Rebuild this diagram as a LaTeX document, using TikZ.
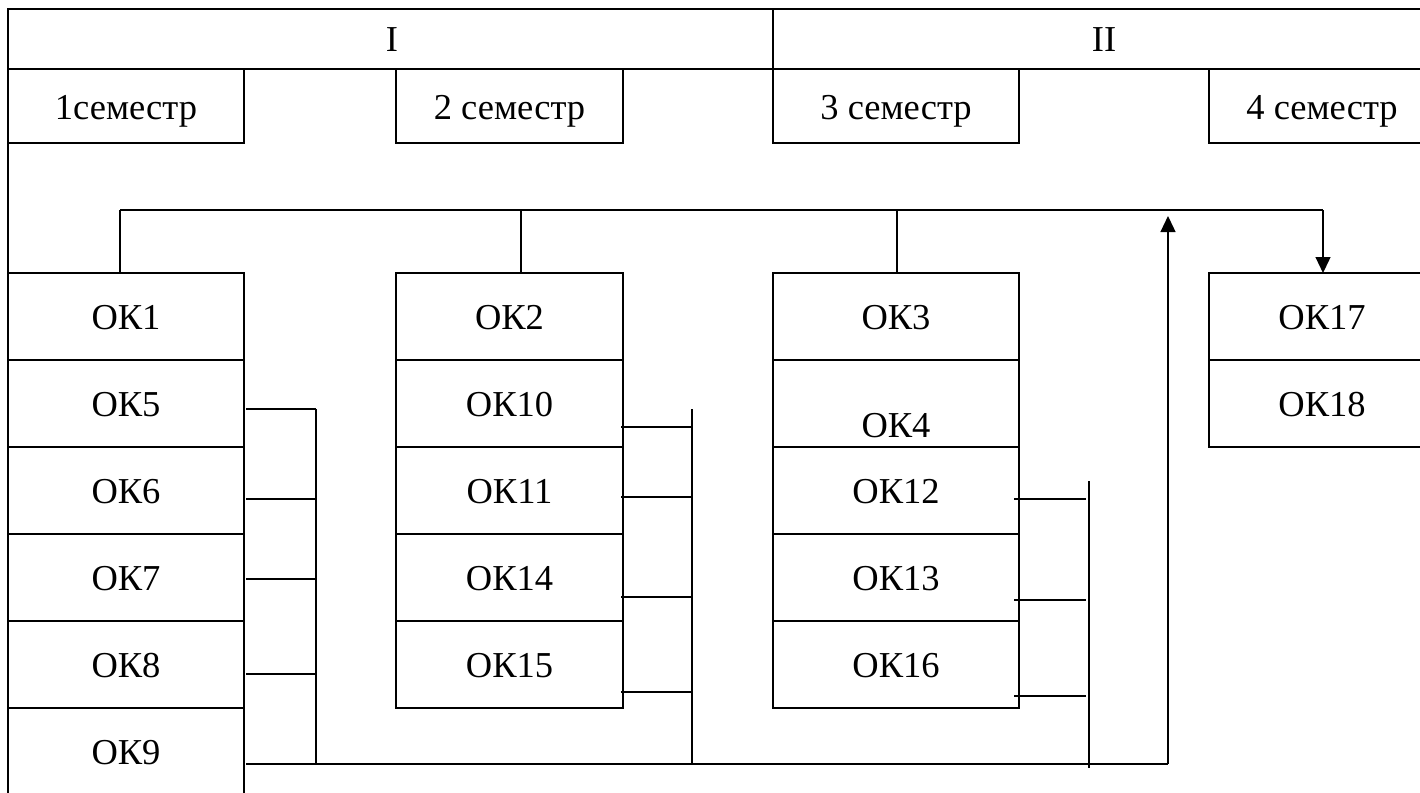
\documentclass[tikz,border=0pt]{standalone}
\usepackage{fontspec}
\setmainfont{Liberation Serif}
\usetikzlibrary{arrows.meta}
\begin{document}
\begin{tikzpicture}[x=1pt,y=-1pt,line width=1.3pt,
  txt/.style={inner sep=0pt,text height=26pt,text depth=0pt,font=\fontsize{36.5}{42}\selectfont},
  box/.style={draw,rectangle,inner sep=0pt,outer sep=0pt,minimum width=#1,minimum height=87pt,
              text height=26pt,text depth=0pt,font=\fontsize{36.5}{42}\selectfont},
  sem/.style={draw,rectangle,inner sep=0pt,outer sep=0pt,minimum width=#1,minimum height=74pt,
              text height=26pt,text depth=0pt,font=\fontsize{36.5}{42}\selectfont},
  conn/.style={line width=1.3pt},
  arr/.style={line width=1.3pt,-{Triangle[length=16pt,width=15pt]}}]
\useasboundingbox (0,0) rectangle (1420,792);
\clip (0,0) rectangle (1420,792);
\fill[white] (0,0) rectangle (1420,792);
% outer frame and header
\draw (8,9) rectangle (1445,820);
\draw (8,69) -- (1445,69);
\draw (773,9) -- (773,69);
\node[txt] (h1) at (392,39) {I};
\node[txt] (h2) at (1104,39) {II};
% semesters
\node[sem=236pt] (s1) at (126,106) {1семестр};
\node[sem=227pt] (s2) at (509.5,106) {2 семестр};
\node[sem=246pt] (s3) at (896,106) {3 семестр};
\node[sem=226pt] (s4) at (1322,106) {4 семестр};
% column A
\node[box=236pt] (ok1) at (126,316.5) {ОК1};
\node[box=236pt] (ok5) at (126,403.5) {ОК5};
\node[box=236pt] (ok6) at (126,490.5) {ОК6};
\node[box=236pt] (ok7) at (126,577.5) {ОК7};
\node[box=236pt] (ok8) at (126,664.5) {ОК8};
\node[box=236pt] (ok9) at (126,751.5) {ОК9};
% column B
\node[box=227pt] (ok2) at (509.5,316.5) {ОК2};
\node[box=227pt] (ok10) at (509.5,403.5) {ОК10};
\node[box=227pt] (ok11) at (509.5,490.5) {ОК11};
\node[box=227pt] (ok14) at (509.5,577.5) {ОК14};
\node[box=227pt] (ok15) at (509.5,664.5) {ОК15};
% column C
\node[box=246pt] (ok3) at (896,316.5) {ОК3};
\node[box=246pt] (ok4) at (896,403.5) {};
\node[txt] (ok4t) at (896,424) {ОК4};
\node[box=246pt] (ok12) at (896,490.5) {ОК12};
\node[box=246pt] (ok13) at (896,577.5) {ОК13};
\node[box=246pt] (ok16) at (896,664.5) {ОК16};
% column D
\node[box=226pt] (ok17) at (1322,316.5) {ОК17};
\node[box=226pt] (ok18) at (1322,403.5) {ОК18};
% coordinates
\coordinate (busL) at (120,210);
\coordinate (busR) at (1323,210);
\coordinate (va) at (316,409);
\coordinate (vaB) at (316,764);
\coordinate (vb) at (692,409);
\coordinate (vbB) at (692,764);
\coordinate (vc) at (1089,481);
\coordinate (vcB) at (1089,768);
\coordinate (up) at (1168,764);
\coordinate (upT) at (1168,211);
% bus and drops
\draw[conn] (busL) -- (busR);
\draw[conn] (busL) -- (busL |- ok1.north);
\draw[conn] (521,210) -- (521,273);
\draw[conn] (897,210) -- (897,273);
\draw[arr] (busR) -- (busR |- ok17.north);
% column A connectors
\draw[conn] (va) -- (vaB);
\draw[conn] ([xshift=2pt,yshift=-5.5pt]ok5.east) -- (va);
\draw[conn] ([xshift=2pt,yshift=-8.5pt]ok6.east) -- ++(70,0);
\draw[conn] ([xshift=2pt,yshift=-1.5pt]ok7.east) -- ++(70,0);
\draw[conn] ([xshift=2pt,yshift=-9.5pt]ok8.east) -- ++(70,0);
\draw[conn] ([xshift=2pt,yshift=-12.5pt]ok9.east) -- ++(70,0);
% column B connectors
\draw[conn] (vb) -- (vbB);
\draw[conn] ([xshift=-2pt,yshift=-23.5pt]ok10.east) -- ++(71,0);
\draw[conn] ([xshift=-2pt,yshift=-6.5pt]ok11.east) -- ++(71,0);
\draw[conn] ([xshift=-2pt,yshift=-19.5pt]ok14.east) -- ++(71,0);
\draw[conn] ([xshift=-2pt,yshift=-27.5pt]ok15.east) -- ++(71,0);
% column C connectors
\draw[conn] (vc) -- (vcB);
\draw[conn] ([xshift=-5pt,yshift=-8.5pt]ok12.east) -- ++(72,0);
\draw[conn] ([xshift=-5pt,yshift=-22.5pt]ok13.east) -- ++(72,0);
\draw[conn] ([xshift=-5pt,yshift=-31.5pt]ok16.east) -- ++(72,0);
% bottom return line and arrow up
\draw[conn] (vaB) -- (up);
\draw[arr] (up) -- ([yshift=-5pt]upT);
\end{tikzpicture}
\end{document}
